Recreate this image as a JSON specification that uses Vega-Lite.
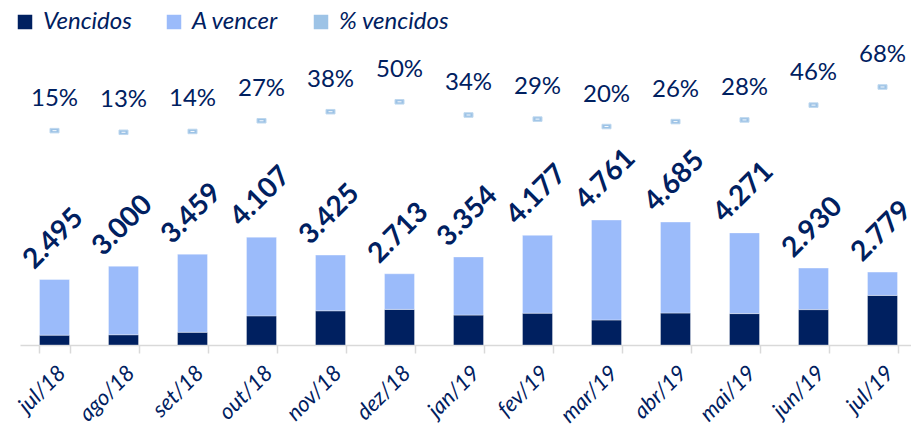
{
  "$schema": "https://vega.github.io/schema/vega-lite/v6.json",
  "width": 897,
  "height": 315,
  "autosize": "none",
  "padding": {"left": 20, "top": 30, "right": 0, "bottom": 81},
  "background": "white",
  "config": {
    "view": {"stroke": null},
    "font": "Lato",
    "locale": {"number": {"decimal": ",", "thousands": ".", "grouping": [3], "currency": ["R$", ""]}}
  },
  "datasets": {
    "meses": [
      {"mes": "jul/18", "total": 2495, "pct": 0.15},
      {"mes": "ago/18", "total": 3000, "pct": 0.13},
      {"mes": "set/18", "total": 3459, "pct": 0.14},
      {"mes": "out/18", "total": 4107, "pct": 0.27},
      {"mes": "nov/18", "total": 3425, "pct": 0.38},
      {"mes": "dez/18", "total": 2713, "pct": 0.50},
      {"mes": "jan/19", "total": 3354, "pct": 0.34},
      {"mes": "fev/19", "total": 4177, "pct": 0.29},
      {"mes": "mar/19", "total": 4761, "pct": 0.20},
      {"mes": "abr/19", "total": 4685, "pct": 0.26},
      {"mes": "mai/19", "total": 4271, "pct": 0.28},
      {"mes": "jun/19", "total": 2930, "pct": 0.46},
      {"mes": "jul/19", "total": 2779, "pct": 0.68}
    ],
    "barras": [
      {"mes": "jul/18", "serie": "Vencidos", "ordem": 1, "valor": 374},
      {"mes": "jul/18", "serie": "A vencer", "ordem": 2, "valor": 2121},
      {"mes": "ago/18", "serie": "Vencidos", "ordem": 1, "valor": 390},
      {"mes": "ago/18", "serie": "A vencer", "ordem": 2, "valor": 2610},
      {"mes": "set/18", "serie": "Vencidos", "ordem": 1, "valor": 484},
      {"mes": "set/18", "serie": "A vencer", "ordem": 2, "valor": 2975},
      {"mes": "out/18", "serie": "Vencidos", "ordem": 1, "valor": 1109},
      {"mes": "out/18", "serie": "A vencer", "ordem": 2, "valor": 2998},
      {"mes": "nov/18", "serie": "Vencidos", "ordem": 1, "valor": 1302},
      {"mes": "nov/18", "serie": "A vencer", "ordem": 2, "valor": 2123},
      {"mes": "dez/18", "serie": "Vencidos", "ordem": 1, "valor": 1357},
      {"mes": "dez/18", "serie": "A vencer", "ordem": 2, "valor": 1356},
      {"mes": "jan/19", "serie": "Vencidos", "ordem": 1, "valor": 1140},
      {"mes": "jan/19", "serie": "A vencer", "ordem": 2, "valor": 2214},
      {"mes": "fev/19", "serie": "Vencidos", "ordem": 1, "valor": 1211},
      {"mes": "fev/19", "serie": "A vencer", "ordem": 2, "valor": 2966},
      {"mes": "mar/19", "serie": "Vencidos", "ordem": 1, "valor": 952},
      {"mes": "mar/19", "serie": "A vencer", "ordem": 2, "valor": 3809},
      {"mes": "abr/19", "serie": "Vencidos", "ordem": 1, "valor": 1218},
      {"mes": "abr/19", "serie": "A vencer", "ordem": 2, "valor": 3467},
      {"mes": "mai/19", "serie": "Vencidos", "ordem": 1, "valor": 1196},
      {"mes": "mai/19", "serie": "A vencer", "ordem": 2, "valor": 3075},
      {"mes": "jun/19", "serie": "Vencidos", "ordem": 1, "valor": 1348},
      {"mes": "jun/19", "serie": "A vencer", "ordem": 2, "valor": 1582},
      {"mes": "jul/19", "serie": "Vencidos", "ordem": 1, "valor": 1890},
      {"mes": "jul/19", "serie": "A vencer", "ordem": 2, "valor": 889}
    ]
  },
  "encoding": {
    "x": {
      "field": "mes",
      "type": "nominal",
      "sort": null,
      "title": null,
      "scale": {"paddingInner": 0.565, "paddingOuter": 0.2825},
      "axis": {
        "domainColor": "#D9D9D9",
        "domainWidth": 1.5,
        "tickColor": "#D9D9D9",
        "tickWidth": 1.5,
        "tickSize": 8,
        "tickBand": "extent",
        "labelAngle": -45,
        "labelAlign": "right",
        "labelBaseline": "top",
        "labelPadding": 9,
        "labelColor": "#002060",
        "labelFont": "Lato",
        "labelFontStyle": "italic",
        "labelFontSize": 22,
        "labelOverlap": false,
        "labelBound": false,
        "grid": false
      }
    }
  },
  "layer": [
    {
      "data": {"name": "barras"},
      "mark": {"type": "bar", "stroke": "#FFFFFF", "strokeOpacity": 0.35, "strokeWidth": 1},
      "encoding": {
        "y": {
          "field": "valor",
          "type": "quantitative",
          "stack": "zero",
          "scale": {"domain": [0, 12000]},
          "axis": null
        },
        "order": {"field": "ordem", "type": "quantitative"},
        "color": {
          "field": "serie",
          "type": "nominal",
          "scale": {
            "domain": ["Vencidos", "A vencer", "% vencidos"],
            "range": ["#002060", "#9BBBFA", "#9DC3E6"]
          },
          "legend": {
            "title": null,
            "orient": "none",
            "legendX": -7,
            "legendY": -20,
            "direction": "horizontal",
            "columnPadding": 30,
            "labelOffset": 6,
            "labelFont": "Lato",
            "labelFontStyle": "italic",
            "labelFontSize": 24,
            "labelColor": "#002060",
            "symbolType": "square",
            "symbolSize": 210,
            "symbolStrokeWidth": 0,
            "padding": 0,
            "encode": {
              "symbols": {
                "update": {
                  "shape": {"signal": "datum.value === '% vencidos' ? 'M-1,-0.55H1V0.55H-1Z' : 'square'"},
                  "size": {"signal": "datum.value === '% vencidos' ? 64 : 210"},
                  "stroke": {"signal": "datum.value === '% vencidos' ? '#BDD7EE' : null"},
                  "strokeWidth": {"signal": "datum.value === '% vencidos' ? 1 : 0"}
                }
              }
            }
          }
        }
      }
    },
    {
      "data": {"name": "meses"},
      "mark": {
        "type": "text",
        "font": "Lato",
        "fontWeight": "bold",
        "fontSize": 28,
        "color": "#002060",
        "angle": -45,
        "align": "center",
        "baseline": "middle",
        "dx": 28,
        "dy": -29
      },
      "encoding": {
        "y": {"field": "total", "type": "quantitative", "scale": {"domain": [0, 12000]}, "axis": null},
        "text": {"field": "total", "type": "quantitative", "format": ",d"}
      }
    },
    {
      "data": {"name": "meses"},
      "mark": {
        "type": "point",
        "shape": "M-1,-0.5H1V0.5H-1Z",
        "size": 81,
        "filled": true,
        "fill": "#9DC3E6",
        "stroke": "#BDD7EE",
        "strokeWidth": 1,
        "opacity": 1
      },
      "encoding": {
        "y": {"field": "pct", "type": "quantitative", "scale": {"domain": [-2.453, 1.372]}, "axis": null}
      }
    },
    {
      "data": {"name": "meses"},
      "mark": {
        "type": "point",
        "shape": "M-1,-0.25H1V0.25H-1Z",
        "size": 16,
        "filled": true,
        "fill": "#FFFFFF",
        "strokeWidth": 0,
        "opacity": 0.9
      },
      "encoding": {
        "y": {"field": "pct", "type": "quantitative", "scale": {"domain": [-2.453, 1.372]}, "axis": null}
      }
    },
    {
      "data": {"name": "meses"},
      "mark": {
        "type": "text",
        "font": "Lato",
        "fontSize": 24,
        "color": "#002060",
        "align": "center",
        "baseline": "alphabetic",
        "dy": -25
      },
      "encoding": {
        "y": {"field": "pct", "type": "quantitative", "scale": {"domain": [-2.453, 1.372]}, "axis": null},
        "text": {"field": "pct", "type": "quantitative", "format": ".0%"}
      }
    }
  ],
  "resolve": {"scale": {"y": "independent"}}
}
